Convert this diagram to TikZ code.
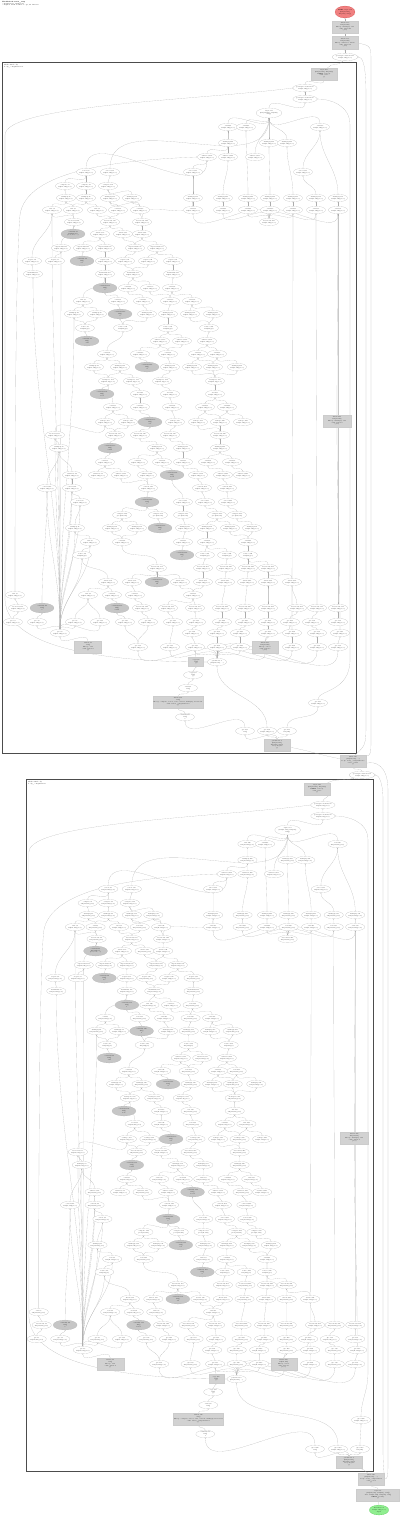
\documentclass[tikz,border=0pt]{standalone}
\usetikzlibrary{arrows.meta,shapes.geometric,backgrounds}
\definecolor{rootred}{HTML}{F08080}
\definecolor{paramgreen}{HTML}{90EE90}
\newcommand{\sh}{f32[32,128]\{1,0\}}
\tikzset{
  op/.style={ellipse,draw=gray!60,line width=.15pt,fill=white,minimum width=.95cm,minimum height=.38cm,inner sep=.1pt,align=center,font=\fontsize{2}{2.4}\selectfont},
  opdark/.style={op,fill=gray!45,minimum width=1.2cm,minimum height=.5cm},
  blk/.style={rectangle,draw=gray!40,line width=.15pt,fill=gray!35,minimum width=1.3cm,minimum height=.6cm,inner sep=.4pt,align=center,font=\fontsize{2}{2.4}\selectfont},
  link/.style={-{Stealth[length=1.1pt,width=.9pt]},draw=gray!65,line width=.15pt,out=90,in=270},
  clusterbox/.style={draw=black!70,line width=.8pt},
  cluslabel/.style={anchor=north west,align=left,inner sep=0pt,font=\fontsize{2.2}{2.6}\selectfont}
}
% one while body, placed in cluster-1 coordinates
\newcommand{\loopbody}[1]{%
  \node[op] (#1r88x305) at (305,88) {get-tuple-element.88\\\sh};
  \node[op] (#1r99x305) at (305,99) {get-tuple-element.99\\\sh};
  \node[op,minimum width=1.1cm,minimum height=.5cm] (#1r113x269) at (269,113) {tuple.113\\(f32[32,128], f32[128],\\s32[])};
  \foreach \x in {228,246,320} \node[op] (#1r127x\x) at (\x,127) {add.\x\\\sh};
  \foreach \x in {228,269,287} \node[op] (#1r143x\x) at (\x,143) {multiply.\x\\\sh};
  \foreach \x in {207,228,255} \node[op] (#1r157x\x) at (\x,157) {subtract.\x\\\sh};
  \foreach \x in {86,110,193,303} \node[op] (#1r172x\x) at (\x,172) {select.\x\\\sh};
  \foreach \x in {65,86,108} \node[op] (#1r186x\x) at (\x,186) {compare.\x\\\sh};
  \foreach \x in {66,86,110,132,193,223,248,270,293,316,338} \node[op] (#1r198x\x) at (\x,198) {multiply.\x\\\sh};
  \foreach \x in {52,73,97,118,140,193,223,248,270,293,316,338} \node[op] (#1r210x\x) at (\x,210) {add.\x\\\sh};
  \foreach \x in {74,110,142,269} \node[op] (#1r222x\x) at (\x,222) {broadcast.\x\\\sh};
  \node[opdark] (#1r234x73) at (73,234) {constant.73\\f32[128]\{0\}\\\{0.1, 0.1, ...\}};
  \foreach \x in {100,123,142} \node[op] (#1r234x\x) at (\x,234) {divide.\x\\\sh};
  \foreach \x in {61,83,105,135,157} \node[op] (#1r248x\x) at (\x,248) {exponential.\x\\\sh};
  \node[opdark] (#1r261x82) at (82,261) {constant.82\\f32[]\\0.5};
  \foreach \x in {32,55,105,125,148,173} \node[op] (#1r261x\x) at (\x,261) {negate.\x\\\sh};
  \foreach \x in {33,105,133,173} \node[op] (#1r274x\x) at (\x,274) {maximum.\x\\\sh};
  \node[opdark] (#1r288x105) at (105,288) {constant.105\\f32[]\\1};
  \foreach \x in {128,150,172} \node[op] (#1r288x\x) at (\x,288) {add.\x\\\sh};
  \foreach \x in {83,118,143,170,192} \node[op] (#1r301x\x) at (\x,301) {add.\x\\\sh};
  \node[opdark] (#1r314x120) at (120,314) {constant.120\\f32[]\\0};
  \foreach \x in {74,97,147,168,190,213} \node[op] (#1r314x\x) at (\x,314) {multiply.\x\\\sh};
  \foreach \x in {85,123,168,209} \node[op] (#1r328x\x) at (\x,328) {reduce.\x\\f32[128]\{0\}};
  \node[opdark] (#1r341x87) at (87,341) {constant.87\\f32[]\\-inf};
  \foreach \x in {160,182,207} \node[op] (#1r341x\x) at (\x,341) {subtract.\x\\\sh};
  \foreach \x in {107,140,168,198,217} \node[op] (#1r354x\x) at (\x,354) {add.\x\\\sh};
  \node[opdark] (#1r367x147) at (147,367) {constant.147\\f32[]\\2};
  \foreach \x in {94,120,170,192,213,237} \node[op] (#1r367x\x) at (\x,367) {multiply.\x\\\sh};
  \foreach \x in {108,133,162,215} \node[op] (#1r381x\x) at (\x,381) {transpose.\x\\f32[128,32]\{0,1\}};
  \node[opdark] (#1r394x102) at (102,394) {constant.102\\f32[]\\0.01};
  \foreach \x in {140,170,215} \node[op] (#1r394x\x) at (\x,394) {dot.\x\\\sh};
  \foreach \x in {113,140,172,205,227} \node[op] (#1r407x\x) at (\x,407) {add.\x\\\sh};
  \node[blk,minimum width=1.4cm] (#1r421x337) at (337,421) {fusion.421\\f32[32,128]\\kLoop: multiply, add\\calls: fused.7\\\{1,0\}};
  \node[opdark] (#1r422x150) at (150,422) {constant.150\\f32[]\\0.9};
  \foreach \x in {105,128,175,198,220,243} \node[op] (#1r422x\x) at (\x,422) {reshape.\x\\\sh};
  \foreach \x in {55,115,140,170,220} \node[op] (#1r435x\x) at (\x,435) {broadcast.\x\\\sh};
  \node[opdark] (#1r448x110) at (110,448) {constant.110\\f32[]\\0.999};
  \foreach \x in {59,157,183,220} \node[op] (#1r448x\x) at (\x,448) {multiply.\x\\\sh};
  \foreach \x in {105,138,162,183,208,232} \node[op] (#1r462x\x) at (\x,462) {add.\x\\\sh};
  \node[opdark] (#1r475x172) at (172,475) {constant.172\\f32[]\\1e-08};
  \foreach \x in {72,98,121,147,198,223,243} \node[op] (#1r475x\x) at (\x,475) {subtract.\x\\\sh};
  \foreach \x in {47,72,148,202,227} \node[op] (#1r488x\x) at (\x,488) {convert.\x\\\sh};
  \node[opdark] (#1r502x147) at (147,502) {constant.147\\s32[]\\1};
  \foreach \x in {80,183,205,228} \node[op] (#1r502x\x) at (\x,502) {select.\x\\\sh};
  \foreach \x in {122,158,183,217,237} \node[op] (#1r515x\x) at (\x,515) {compare.\x\\pred[32,128]};
  \node[opdark] (#1r528x160) at (160,528) {constant.160\\f32[]\\0.1};
  \foreach \x in {75,112,137,185,207,230,252} \node[op] (#1r528x\x) at (\x,528) {multiply.\x\\\sh};
  \foreach \x in {90,122,183,207,248} \node[op] (#1r542x\x) at (\x,542) {add.\x\\\sh};
  \node[opdark] (#1r555x182) at (182,555) {constant.182\\f32[]\\0};
  \foreach \x in {82,205,227,248} \node[op] (#1r555x\x) at (\x,555) {reduce.\x\\f32[128]\{0\}};
  \foreach \x in {157,203,226,248,268} \node[op] (#1r568x\x) at (\x,568) {broadcast.\x\\\sh};
  \node[opdark] (#1r582x157) at (157,582) {constant.157\\f32[]\\32};
  \foreach \x in {108,132,180,203,225,247,268,292} \node[op] (#1r582x\x) at (\x,582) {divide.\x\\\sh};
  \foreach \x in {15,88,112,135,193} \node[op] (#1r595x\x) at (\x,595) {add.\x\\\sh};
  \node[opdark] (#1r608x42) at (42,608) {constant.42\\s32[]\\1};
  \node[opdark] (#1r608x117) at (117,608) {constant.117\\f32[]\\0.001};
  \foreach \x in {18,142,168,195,222,245,268,297,317,338} \node[op] (#1r608x\x) at (\x,608) {broadcast.\x\\\sh};
  \foreach \x in {13,37,75,100,125,148,173,196,222,245,268,290,312,338} \node[op] (#1r622x\x) at (\x,622) {gte.\x\\\sh};
  \foreach \x in {60,192,217,240,268,292,317,340} \node[op] (#1r633x\x) at (\x,633) {gte.\x\\\sh};
  \node[blk,minimum width=1.35cm] (#1r647x88) at (88,647) {fusion.88\\s32[]\\kLoop: add\\calls: fused.2\\\{\}};
  \node[blk] (#1r647x265) at (265,647) {fusion.265\\f32[32,128]\\kLoop: select\\calls: fused.5\\\{1,0\}};
  \foreach \x in {138,170,195,217,240,292,317,338} \node[op] (#1r647x\x) at (\x,647) {gte.\x\\\sh};
  \node[blk,minimum width=.75cm,minimum height=.45cm] (#1r662x196) at (196,662) {copy.196\\s32[]\\\{\}};
  \node[op] (#1r662x217) at (217,662) {parameter.0\\(f32[32,128], ...)};
  \node[op] (#1r675x193) at (193,675) {copy.193\\s32[]\\\{\}};
  \node[op] (#1r688x188) at (188,688) {add.188\\s32[]};
  \node[blk,minimum width=2.5cm] (#1r702x178) at (178,702) {fusion.178\\s32[]\\kLoop: compare, select, add, convert, multiply, broadcast\\calls: fused\_computation.9\\\{\}};
  \node[op] (#1r717x185) at (185,717) {constant.185\\s32[]\\1};
  \begin{pgfonlayer}{background}
  % top rows
  \foreach \a/\b in {99x305/88x305,113x269/99x305,127x228/113x269,127x246/113x269,127x320/113x269,
    143x228/127x228,143x269/113x269,143x287/113x269,157x207/143x228,157x228/143x228,157x255/113x269,
    172x193/157x207,172x303/127x320,172x110/113x269,172x86/157x207,186x86/172x86,186x108/172x110,186x65/172x86,
    198x66/186x65,198x86/186x86,198x110/186x108,198x132/186x108,198x193/172x193,198x223/157x228,198x248/127x246,
    198x270/143x269,198x293/143x287,198x316/172x303,198x338/127x320,
    210x52/198x66,210x73/198x66,210x73/198x86,210x97/198x86,210x118/198x110,210x140/198x132,210x140/198x110,
    210x193/198x193,210x223/198x223,210x248/198x248,210x270/198x270,210x293/198x293,210x316/198x316,210x338/198x338,
    222x74/210x73,222x74/210x52,222x110/210x97,222x110/210x118,222x142/210x140,222x142/198x193,
    222x269/210x193,222x269/210x223,222x269/210x248,222x269/210x270,222x269/210x293,222x269/210x316,222x269/210x338}
    \draw[link] (#1r\a) to (#1r\b);
  % upper middle
  \foreach \a/\b in {234x73/222x74,234x100/222x110,234x123/222x110,234x142/222x142,
    248x105/234x100,248x83/234x100,248x135/234x123,248x135/234x142,248x157/234x142,248x61/222x74,
    261x55/248x61,261x82/248x83,261x105/248x105,261x125/248x135,261x148/248x157,261x173/248x157,261x32/210x52,
    274x33/261x32,274x105/261x105,274x133/261x125,274x133/261x148,274x173/261x173,
    288x105/274x105,288x128/274x133,288x150/274x133,288x172/274x173,
    301x83/274x105,301x118/288x105,301x143/288x128,301x170/288x150,301x170/288x172,301x192/288x172,
    314x74/301x83,314x97/301x83,314x120/301x118,314x147/301x143,314x168/301x170,314x190/301x192,314x213/301x192,
    328x85/314x74,328x85/314x97,328x123/314x120,328x123/314x147,328x168/314x168,328x209/314x213,328x209/314x190,
    341x87/328x85,341x160/328x168,341x182/328x168,341x207/328x209,
    354x107/328x123,354x140/341x160,354x168/341x160,354x168/341x182,354x198/341x207,354x217/341x207,
    367x94/354x107,367x120/354x107,367x147/354x140,367x170/354x168,367x192/354x198,367x213/354x198,367x213/354x217,367x237/354x217,
    381x108/367x94,381x108/367x120,381x133/367x120,381x162/367x170,381x215/367x213,381x215/367x192,381x215/367x237,
    394x102/381x108,394x140/381x133,394x170/381x162,394x215/381x215}
    \draw[link] (#1r\a) to (#1r\b);
  % lower middle
  \foreach \a/\b in {407x113/381x108,407x140/394x140,407x172/394x170,407x205/394x215,407x227/394x215,
    422x105/407x113,422x128/407x113,422x150/407x140,422x175/407x172,422x198/407x205,422x220/407x205,422x220/407x227,422x243/407x227,
    435x55/422x105,435x115/422x105,435x115/422x128,435x140/422x150,435x170/422x175,435x220/422x220,435x220/422x198,
    448x59/435x55,448x110/435x115,448x157/435x140,448x183/435x170,448x220/435x220,
    462x105/448x110,462x138/448x157,462x162/448x157,462x183/448x183,462x208/448x220,462x232/448x220,
    475x72/448x59,475x98/462x105,475x121/462x105,475x147/462x138,475x172/462x162,475x198/462x183,475x223/462x208,475x243/462x232,
    488x47/448x59,488x72/475x72,488x148/475x147,488x148/475x121,488x202/475x198,488x227/475x223,
    502x80/488x72,502x147/488x148,502x183/475x172,502x205/488x202,502x228/488x227,
    515x122/502x147,515x158/502x147,515x183/502x183,515x217/502x205,515x237/502x228,
    528x75/502x80,528x112/515x122,528x137/515x122,528x160/515x158,528x185/515x183,528x207/515x217,528x230/515x217,528x252/515x237,
    542x90/528x75,542x122/528x112,542x122/528x137,542x183/528x185,542x207/528x207,542x248/528x252,542x248/528x230,
    555x82/542x90,555x182/542x183,555x205/542x207,555x227/542x207,555x248/542x248,
    568x157/542x122,568x203/555x205,568x226/555x227,568x248/555x248,568x268/555x248}
    \draw[link] (#1r\a) to (#1r\b);
  % bottom rows
  \foreach \a/\b in {582x108/555x82,582x132/568x157,582x157/568x157,582x180/568x157,582x203/568x203,582x225/568x226,
    582x247/568x248,582x268/568x268,582x292/568x268,
    595x88/582x108,595x112/582x108,595x135/582x132,595x193/582x180,595x193/582x203,
    608x18/595x15,608x42/488x47,608x117/595x112,608x142/595x135,608x168/595x193,608x195/595x193,608x222/582x225,
    608x245/582x247,608x268/582x268,608x297/582x292,608x317/210x316,608x338/210x338,
    622x13/608x18,622x37/608x42,622x75/595x88,622x100/595x88,622x125/608x117,622x148/608x142,622x173/608x168,
    622x196/608x195,622x222/608x222,622x245/608x245,622x268/608x268,622x290/608x297,622x312/608x317,622x338/608x338,
    633x192/622x196,633x217/622x222,633x240/622x245,633x268/622x268,633x292/210x293,633x317/622x312,
    633x340/421x337,421x337/210x338,
    647x88/633x60,647x138/622x125,647x138/622x148,647x170/622x173,647x195/633x192,647x217/633x217,647x240/633x240,
    647x265/633x268,647x265/622x290,647x292/633x292,647x317/633x317,647x338/633x340,
    662x196/647x195,662x217/647x138,662x217/647x170,662x217/647x195,662x217/647x217,662x217/647x240,
    662x217/647x265,662x217/647x292,662x217/647x317,662x217/647x338,
    675x193/662x196,688x188/675x193,702x178/688x188,717x185/702x178}
    \draw[link] (#1r\a) to (#1r\b);
  % fan out of the left get-tuple-element
  \foreach \b in {622x37,622x75,622x100,555x82,542x90,528x75,502x80,488x47,488x72,475x72,448x59,435x55,274x33,314x74,248x61,210x52}
    \draw[link] (#1r633x60) to (#1r\b);
  % long routes on the left
  \draw[link] (#1r595x15.north) .. controls (15,420) and (16,260) .. (20,215) .. controls (26,170) and (120,160) .. (#1r157x207.west);
  \draw[link] (#1r662x217.west) .. controls (120,662) and (8,652) .. (5,600) -- (5,135) .. controls (5,105) and (200,100) .. (#1r88x305.west);
  \end{pgfonlayer}
}
\begin{document}
\begin{tikzpicture}[x=.05cm,y=-.05cm]
\useasboundingbox (0,0) rectangle (400,1517);
\node[cluslabel] (title) at (2,1) {\textbf{HloModule train\_step}\\computation: main.312\\compiled with 2 while loops, 41 fusions};
% entry chain at the top
\node[op,fill=rootred,draw=red!60!gray,minimum width=1cm,minimum height=.6cm] (root) at (345,12) {ROOT tuple.312\\(f32[32,128],\\f32[128], s32[])};
\node[blk] (outa) at (345,27) {fusion.310\\f32[32,128]\\kLoop: multiply, add\\calls: fused.40\\\{1,0\}};
\node[blk,minimum height=.65cm] (outb) at (345,43) {fusion.305\\f32[32,128]\\kLoop: subtract, divide\\calls: fused.38\\\{1,0\}};
\node[op] (gte1) at (345,57) {get-tuple-element.301\\\sh};
% first loop body
\begin{pgfonlayer}{background}
\draw[clusterbox] (2,62) rectangle (356,753);
\end{pgfonlayer}
\node[cluslabel] (lab1) at (4,64) {while.300 body\\body\_computation.1};
\node[blk] (top1) at (324,74) {tuple.299\\(f32[32,128], f32[128])\\ROOT of body\\calls: none\\\{\}};
\loopbody{p}
\node[op] (p703) at (318,703) {gte.703\\\sh};
\node[op] (p731a) at (245,731) {gte.731\\s32[]};
\node[op] (p731b) at (267,731) {gte.732\\\sh};
\node[op] (p731c) at (287,731) {gte.733\\f32[128]};
\node[blk] (out1) at (277,745) {parameter.0\\(f32[32,128],\\f32[128], s32[])\\body input\\\{\}};
% between the loops
\node[blk] (mid) at (353,761) {while.300\\(f32[32,128], ...)\\body: body\_computation.1\\cond: cond.1\\\{\}};
\node[op] (gte2) at (362,775) {get-tuple-element.150\\\sh};
% second loop body
\begin{pgfonlayer}{background}
\draw[clusterbox] (26,779) rectangle (373,1471);
\end{pgfonlayer}
\node[cluslabel] (lab2) at (28,781) {while.149 body\\body\_computation};
\node[blk] (top2) at (317,789) {tuple.148\\(f32[32,128], f32[128])\\ROOT of body\\calls: none\\\{\}};
\begin{scope}[shift={(24,717)},xscale=.98]
\loopbody{q}
\end{scope}
\node[op] (q703) at (361,1420) {gte.1420\\\sh};
\node[op] (q731a) at (315,1449) {gte.1449\\s32[]};
\node[op] (q731b) at (338,1449) {gte.1450\\\sh};
\node[op] (q731c) at (360,1449) {gte.1451\\f32[128]};
\node[blk] (out2) at (349,1462) {parameter.0\\(f32[32,128],\\f32[128], s32[])\\body input\\\{\}};
% entry chain at the bottom
\node[blk] (blk1) at (371,1479) {while.149\\(f32[32,128], ...)\\body: body\_computation\\cond: cond\\\{\}};
\node[blk,minimum width=2.15cm] (blk2) at (378,1495) {tuple.12\\(f32[32,128], f32[128], s32[])\\init: f32[32,128], f32[128], s32[]\\ROOT of entry\\\{\}};
\node[op,fill=paramgreen,draw=green!50!gray,minimum width=.7cm,minimum height=.5cm] (param) at (379,1510) {Parameter 0\\\sh\\input};
\begin{pgfonlayer}{background}
\draw[link] (param) to (blk2);
\draw[link] (blk2) to (blk1);
\draw[link] (blk1) to[out=120,in=-30] (out2);
\draw[link] (blk1.north east) .. controls (383,1460) .. (383,1440) -- (383,800) .. controls (383,780) and (378,775) .. (gte2.east);
\draw[link] (blk1.east) .. controls (388,1479) .. (388,1455) -- (388,790) .. controls (388,765) and (375,761) .. (mid.-10);
\foreach \s in {a,b,c} \draw[link] (out2) to (q731\s);
\draw[link] (q731a) to (qr717x185);
\draw[link] (q731b) to (qr662x217);
\draw[link] (q731c) to (q703);
\draw[link] (q703.north) .. controls (361,1400) and (368,1392) .. (368,1372) -- (368,840) .. controls (368,820) and (345,816) .. (qr99x305.east);
\draw[link] (qr88x305) to[out=90,in=-30] (top2);
\draw[link] (top2) to[out=30,in=200] (gte2);
\draw[link] (gte2) to (mid);
\draw[link] (mid) to[out=170,in=-10] (out1);
\draw[link] (mid.70) .. controls (366,745) .. (366,720) -- (366,95) .. controls (366,62) and (362,57) .. (gte1.east);
\draw[link] (mid.20) .. controls (371,755) .. (371,735) -- (371,62) .. controls (371,46) .. (outb.east);
\foreach \s in {a,b,c} \draw[link] (out1) to (p731\s);
\draw[link] (p731a) to (pr717x185);
\draw[link] (p731b) to (pr662x217);
\draw[link] (p731c) to (p703);
\draw[link] (p703.north) .. controls (318,690) and (350,692) .. (350,660) -- (350,125) .. controls (350,105) and (330,99) .. (pr99x305.east);
\draw[link] (pr88x305) to[out=90,in=-90] (top1);
\draw[link] (top1) to[out=60,in=-120] (gte1);
\draw[link] (gte1) to (outb);
\draw[link] (outb) to (outa);
\draw[link] (outa) to (root);
\end{pgfonlayer}
\end{tikzpicture}
\end{document}
